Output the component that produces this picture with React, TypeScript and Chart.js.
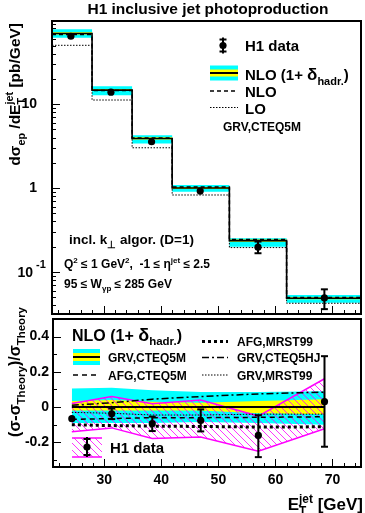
import React, { useEffect, useRef } from 'react';
import { Chart, registerables } from 'chart.js';

Chart.register(...registerables);

// ---------- data ----------
const binEdges = [21, 28, 35, 42, 52, 62, 75];
const binCenters = [24.3, 31.3, 38.4, 46.9, 57.0, 68.6];

// top panel: d sigma / dE_T [pb/GeV]
const h1Xsec = [64.5, 13.9, 3.56, 0.92, 0.197, 0.049];
const h1XsecErrUp = [1.5, 0.45, 0.15, 0.07, 0.033, 0.013];
const h1XsecErrDn = [1.5, 0.45, 0.15, 0.07, 0.03, 0.013];
const nloHadXsec = [69.5, 14.7, 3.9, 1.0, 0.236, 0.0486];
const nloHadCyanUp = [78, 16.4, 4.27, 1.086, 0.252, 0.053];
const nloHadCyanLo = [61.7, 12.8, 3.4, 0.9, 0.2, 0.043];
const nloHadYellowUp = [72, 15.2, 4.03, 1.03, 0.243, 0.05];
const nloHadYellowLo = [67.5, 14.3, 3.8, 0.975, 0.229, 0.0472];
const nloXsec = [67.5, 14.5, 3.95, 1.03, 0.243, 0.0497];
const loXsec = [50.3, 11.2, 3.02, 0.826, 0.195, 0.0423];

// bottom panel: (sigma - sigma_Theory)/sigma_Theory
const h1Ratio = [-0.066, -0.038, -0.094, -0.076, -0.161, 0.031];
const h1RatioErrUp = [0.008, 0.03, 0.04, 0.063, 0.115, 0.258];
const h1RatioErrDn = [0.008, 0.03, 0.042, 0.062, 0.123, 0.256];
const h1SysUp = [0.02, 0.06, 0.019, 0.04, -0.051, 0.161];
const h1SysLo = [-0.14, -0.118, -0.178, -0.17, -0.25, -0.123];
const grvCteq5mCyanUp = [0.105, 0.11, 0.095, 0.085, 0.085, 0.09];
const grvCteq5mCyanLo = [-0.09, -0.09, -0.09, -0.085, -0.09, -0.1];
const grvCteq5mYellowUp = [0.035, 0.04, 0.03, 0.025, 0.035, 0.045];
const grvCteq5mYellowLo = [-0.02, -0.02, -0.02, -0.02, -0.035, -0.04];
const grvCteq5m = [0, 0, 0, 0, 0, 0];
const afgCteq5m = [-0.07, -0.065, -0.06, -0.06, -0.058, -0.055];
const afgMrst99 = [-0.1, -0.105, -0.108, -0.11, -0.113, -0.112];
const grvCteq5hj = [0.01, 0.025, 0.045, 0.06, 0.075, 0.085];
const grvMrst99 = [-0.03, -0.035, -0.045, -0.045, -0.04, -0.04];

const xTickMajor = [30, 40, 50, 60, 70];
const ratioTickMajor = [-0.2, 0, 0.2, 0.4];
const ratioTickLabels = ['-0.2', '0', '0.2', '0.4'];

// ---------- styles ----------
const CYAN = '#00ffff';
const YELLOW = '#ffff00';
const MAGENTA = '#ff00ff';
const FAM = '"Liberation Sans", Arial, Helvetica, sans-serif';
const bold = (s: number) => `bold ${s}px ${FAM}`;

const stepPts = (vals: number[]) =>
  binEdges.map((x, i) => ({ x, y: vals[Math.min(i, vals.length - 1)] }));
const ptPts = (vals: number[]) => binCenters.map((x, i) => ({ x, y: vals[i] }));

type Seg = { t?: string; s?: number; sub?: string; sup?: string; ss?: number };

function segW(ctx: CanvasRenderingContext2D, g: Seg, base: number) {
  if (g.sub !== undefined || g.sup !== undefined) {
    ctx.font = bold(g.ss ?? base * 0.7);
    return Math.max(ctx.measureText(g.sub || '').width, ctx.measureText(g.sup || '').width);
  }
  ctx.font = bold(g.s ?? base);
  return ctx.measureText(g.t || '').width;
}

function drawRich(
  ctx: CanvasRenderingContext2D,
  segs: Seg[],
  x: number,
  y: number,
  base: number,
  align: 'left' | 'right' | 'center',
  rotate = false
) {
  ctx.save();
  ctx.translate(x, y);
  if (rotate) ctx.rotate(-Math.PI / 2);
  const total = segs.reduce((a, g) => a + segW(ctx, g, base), 0);
  let cx = align === 'left' ? 0 : align === 'right' ? -total : -total / 2;
  ctx.textAlign = 'left';
  ctx.textBaseline = 'alphabetic';
  ctx.fillStyle = '#000';
  for (const g of segs) {
    const w = segW(ctx, g, base);
    if (g.sub !== undefined || g.sup !== undefined) {
      ctx.font = bold(g.ss ?? base * 0.7);
      if (g.sub) ctx.fillText(g.sub, cx, base * 0.3);
      if (g.sup) ctx.fillText(g.sup, cx, -base * 0.42);
    } else {
      ctx.font = bold(g.s ?? base);
      ctx.fillText(g.t || '', cx, 0);
    }
    cx += w;
  }
  ctx.restore();
}

function line(ctx: CanvasRenderingContext2D, x1: number, y1: number, x2: number, y2: number) {
  ctx.beginPath();
  ctx.moveTo(x1, y1);
  ctx.lineTo(x2, y2);
  ctx.stroke();
}

function marker(ctx: CanvasRenderingContext2D, x: number, y: number, half: number, cap: number) {
  ctx.save();
  ctx.strokeStyle = '#000';
  ctx.lineWidth = 2;
  line(ctx, x, y - half, x, y + half);
  line(ctx, x - cap, y - half + 2, x + cap, y - half + 2);
  line(ctx, x - cap, y + half - 2, x + cap, y + half - 2);
  ctx.fillStyle = '#000';
  ctx.beginPath();
  ctx.arc(x, y, 3.6, 0, Math.PI * 2);
  ctx.fill();
  ctx.restore();
}

function errBars(
  ctx: CanvasRenderingContext2D,
  xs: any,
  ys: any,
  yv: number[],
  up: number[],
  dn: number[]
) {
  ctx.save();
  ctx.strokeStyle = '#000';
  ctx.lineWidth = 2;
  for (let i = 0; i < yv.length; i++) {
    const px = xs.getPixelForValue(binCenters[i]);
    const yc = ys.getPixelForValue(yv[i]);
    const y1 = ys.getPixelForValue(yv[i] + up[i]);
    const y2 = ys.getPixelForValue(yv[i] - dn[i]);
    line(ctx, px, y1, px, y2);
    if (yc - y1 > 4.5) line(ctx, px - 3.5, y1, px + 3.5, y1);
    if (y2 - yc > 4.5) line(ctx, px - 3.5, y2, px + 3.5, y2);
  }
  ctx.restore();
}

function xTicks(ctx: CanvasRenderingContext2D, xs: any, bottom: number) {
  ctx.lineWidth = 1;
  ctx.strokeStyle = '#000';
  for (let v = 22; v <= 74; v += 2) {
    const px = Math.round(xs.getPixelForValue(v)) + 0.5;
    const len = xTickMajor.includes(v) ? 8 : 4;
    line(ctx, px, bottom, px, bottom - len);
  }
}

const baseLine = {
  pointRadius: 0,
  borderColor: '#000',
  backgroundColor: 'transparent',
  fill: false,
  tension: 0,
};

function topConfig(): any {
  const plugin = {
    id: 'topDeco',
    afterDatasetsDraw(chart: any) {
      errBars(chart.ctx, chart.scales.x, chart.scales.y, h1Xsec, h1XsecErrUp, h1XsecErrDn);
    },
    afterDraw(chart: any) {
      const ctx: CanvasRenderingContext2D = chart.ctx;
      const a = chart.chartArea;
      const xs = chart.scales.x;
      const ys = chart.scales.y;
      ctx.save();
      // frame
      ctx.lineWidth = 2;
      ctx.strokeStyle = '#000';
      ctx.strokeRect(a.left, a.top, a.right - a.left, a.bottom - a.top);
      xTicks(ctx, xs, a.bottom);
      // log y ticks
      ctx.lineWidth = 1;
      for (let e = -2; e <= 2; e++) {
        for (let k = 1; k <= 9; k++) {
          const v = k * Math.pow(10, e);
          if (v < ys.min || v > ys.max) continue;
          const py = Math.round(ys.getPixelForValue(v)) + 0.5;
          line(ctx, a.left, py, a.left + (k === 1 ? 8 : 4), py);
        }
      }
      // y tick labels
      ctx.fillStyle = '#000';
      ctx.font = bold(14);
      ctx.textAlign = 'right';
      ctx.textBaseline = 'middle';
      ctx.fillText('10', 37, ys.getPixelForValue(10));
      ctx.fillText('1', 37, ys.getPixelForValue(1));
      ctx.fillText('10', 33, ys.getPixelForValue(0.1) + 1);
      ctx.font = bold(11);
      ctx.textAlign = 'left';
      ctx.fillText('-1', 36, ys.getPixelForValue(0.1) - 7);

      // title
      ctx.font = bold(15.5);
      ctx.textAlign = 'center';
      ctx.textBaseline = 'alphabetic';
      ctx.fillText('H1 inclusive jet photoproduction', 208, 14);

      // y title
      drawRich(
        ctx,
        [{ t: 'dσ' }, { sub: 'ep' }, { t: ' /dE' }, { sub: 'T', sup: 'jet' }, { t: ' [pb/GeV]' }],
        20,
        23,
        15.5,
        'right',
        true
      );

      // legend
      marker(ctx, 223, 45.5, 8, 3.5);
      ctx.font = bold(15);
      ctx.textAlign = 'left';
      ctx.fillText('H1 data', 245, 50.5);

      ctx.fillStyle = CYAN;
      ctx.fillRect(210, 65.5, 28, 15);
      ctx.fillStyle = YELLOW;
      ctx.fillRect(210, 69.5, 28, 7);
      ctx.strokeStyle = '#000';
      ctx.lineWidth = 2;
      line(ctx, 210, 73, 238, 73);
      drawRich(ctx, [{ t: 'NLO (1+ ' }, { t: 'δ', s: 17 }, { sub: 'hadr.', ss: 11 }, { t: ')' }], 245, 80, 15, 'left');

      ctx.lineWidth = 1.5;
      ctx.setLineDash([4, 3]);
      line(ctx, 210, 91, 238, 91);
      ctx.setLineDash([1.5, 1.5]);
      ctx.lineWidth = 1;
      line(ctx, 210, 107.5, 238, 107.5);
      ctx.setLineDash([]);
      ctx.fillStyle = '#000';
      ctx.font = bold(15);
      ctx.fillText('NLO', 245, 97);
      ctx.fillText('LO', 245, 113.5);
      ctx.font = bold(12);
      ctx.fillText('GRV,CTEQ5M', 223, 131);

      // cuts text
      drawRich(ctx, [{ t: 'incl. k' }, { sub: '⊥', ss: 10 }, { t: ' algor. (D=1)' }], 69, 244, 13.5, 'left');
      drawRich(
        ctx,
        [
          { t: 'Q' },
          { sup: '2', ss: 8 },
          { t: ' ≤ 1 GeV' },
          { sup: '2', ss: 8 },
          { t: ',  -1 ≤ η' },
          { sup: 'jet', ss: 8 },
          { t: ' ≤ 2.5' },
        ],
        64,
        268,
        12,
        'left'
      );
      drawRich(
        ctx,
        [{ t: '95 ≤ W' }, { sub: 'γp', ss: 8 }, { t: ' ≤ 285 GeV' }],
        64,
        287.5,
        12,
        'left'
      );
      ctx.restore();
    },
  };

  return {
    type: 'line',
    data: {
      datasets: [
        { ...baseLine, data: stepPts(nloHadCyanUp), stepped: true, borderWidth: 0, borderColor: 'transparent', fill: '+1', backgroundColor: CYAN, order: 10 },
        { ...baseLine, data: stepPts(nloHadCyanLo), stepped: true, borderWidth: 0, borderColor: 'transparent', order: 9 },
        { ...baseLine, data: stepPts(nloHadYellowUp), stepped: true, borderWidth: 0, borderColor: 'transparent', fill: '+1', backgroundColor: YELLOW, order: 8 },
        { ...baseLine, data: stepPts(nloHadYellowLo), stepped: true, borderWidth: 0, borderColor: 'transparent', order: 7 },
        { ...baseLine, data: stepPts(loXsec), stepped: true, borderWidth: 1, borderDash: [1.5, 1.5], order: 6 },
        { ...baseLine, data: stepPts(nloXsec), stepped: true, borderWidth: 1.5, borderDash: [4, 3], order: 5 },
        { ...baseLine, data: stepPts(nloHadXsec), stepped: true, borderWidth: 1.6, order: 4 },
        { ...baseLine, data: ptPts(h1Xsec), showLine: false, pointRadius: 3.6, pointBackgroundColor: '#000', pointBorderWidth: 0, order: 1 },
      ],
    },
    options: {
      responsive: false,
      animation: false,
      devicePixelRatio: 1,
      events: [],
      layout: { padding: { left: 52, top: 21, right: 2, bottom: 199 } },
      plugins: { legend: { display: false }, tooltip: { enabled: false } },
      scales: {
        x: { type: 'linear', min: 21, max: 75, display: false },
        y: { type: 'logarithmic', min: 0.0315, max: 98, display: false },
      },
    },
    plugins: [plugin],
  };
}

function botConfig(hatch: CanvasPattern | string): any {
  const plugin = {
    id: 'botDeco',
    afterDatasetsDraw(chart: any) {
      errBars(chart.ctx, chart.scales.x, chart.scales.y, h1Ratio, h1RatioErrUp, h1RatioErrDn);
    },
    afterDraw(chart: any) {
      const ctx: CanvasRenderingContext2D = chart.ctx;
      const a = chart.chartArea;
      const xs = chart.scales.x;
      const ys = chart.scales.y;
      ctx.save();
      ctx.lineWidth = 2;
      ctx.strokeStyle = '#000';
      ctx.strokeRect(a.left, a.top, a.right - a.left, a.bottom - a.top);
      xTicks(ctx, xs, a.bottom);
      ctx.lineWidth = 1;
      for (let k = -3; k <= 4; k++) {
        const v = k / 10;
        const py = Math.round(ys.getPixelForValue(v)) + 0.5;
        line(ctx, a.left, py, a.left + (k % 2 === 0 ? 8 : 4), py);
      }
      // labels
      ctx.fillStyle = '#000';
      ctx.font = bold(14);
      ctx.textAlign = 'right';
      ctx.textBaseline = 'middle';
      ratioTickMajor.forEach((v, i) => ctx.fillText(ratioTickLabels[i], 49, ys.getPixelForValue(v)));
      ctx.textAlign = 'center';
      xTickMajor.forEach((v) => ctx.fillText(String(v), xs.getPixelForValue(v), 480));
      ctx.textBaseline = 'alphabetic';

      // axis titles
      drawRich(ctx, [{ t: 'E' }, { sub: 'T', sup: 'jet' }, { t: ' [GeV]' }], 363, 510, 17, 'right');
      drawRich(
        ctx,
        [{ t: '(σ-σ' }, { sub: 'Theory', ss: 11.5 }, { t: ')/σ' }, { sub: 'Theory', ss: 11.5 }],
        20,
        307,
        16,
        'right',
        true
      );

      // legend
      drawRich(ctx, [{ t: 'NLO (1+ ' }, { t: 'δ', s: 18 }, { sub: 'hadr.', ss: 11.5 }, { t: ')' }], 72, 340.5, 16, 'left');
      ctx.fillStyle = CYAN;
      ctx.fillRect(73, 349, 27, 16);
      ctx.fillStyle = YELLOW;
      ctx.fillRect(73, 353, 27, 8);
      ctx.strokeStyle = '#000';
      ctx.lineWidth = 2;
      line(ctx, 73, 357, 100, 357);
      ctx.lineWidth = 1.5;
      ctx.setLineDash([5, 4]);
      line(ctx, 73, 375, 100, 375);
      ctx.lineWidth = 3;
      ctx.setLineDash([3, 3]);
      line(ctx, 202, 341.5, 228, 341.5);
      ctx.lineWidth = 1.5;
      ctx.setLineDash([7, 3, 2, 3]);
      line(ctx, 202, 357.5, 228, 357.5);
      ctx.lineWidth = 1;
      ctx.setLineDash([1.5, 1.5]);
      line(ctx, 202, 375, 228, 375);
      ctx.setLineDash([]);
      ctx.fillStyle = '#000';
      ctx.font = bold(12);
      ctx.textAlign = 'left';
      ctx.fillText('GRV,CTEQ5M', 108, 362);
      ctx.fillText('AFG,CTEQ5M', 108, 379.5);
      ctx.fillText('AFG,MRST99', 237, 346);
      ctx.fillText('GRV,CTEQ5HJ', 237, 362);
      ctx.fillText('GRV,MRST99', 237, 379.5);

      // H1 data hatched box
      ctx.fillStyle = hatch as any;
      ctx.fillRect(72, 438, 30, 19);
      ctx.strokeStyle = MAGENTA;
      ctx.lineWidth = 1.5;
      line(ctx, 72, 438, 102, 438);
      line(ctx, 72, 457, 102, 457);
      marker(ctx, 87, 447, 10, 3.5);
      ctx.fillStyle = '#000';
      ctx.font = bold(15);
      ctx.fillText('H1 data', 110, 453);
      ctx.restore();
    },
  };

  return {
    type: 'line',
    data: {
      datasets: [
        { ...baseLine, data: ptPts(grvCteq5mCyanUp), borderWidth: 0, borderColor: 'transparent', fill: '+1', backgroundColor: CYAN, order: 20 },
        { ...baseLine, data: ptPts(grvCteq5mCyanLo), borderWidth: 0, borderColor: 'transparent', order: 19 },
        { ...baseLine, data: ptPts(grvCteq5mYellowUp), borderWidth: 0, borderColor: 'transparent', fill: '+1', backgroundColor: YELLOW, order: 18 },
        { ...baseLine, data: ptPts(grvCteq5mYellowLo), borderWidth: 0, borderColor: 'transparent', order: 17 },
        { ...baseLine, data: ptPts(h1SysUp), borderWidth: 1.5, borderColor: MAGENTA, fill: '+1', backgroundColor: hatch, order: 16 },
        { ...baseLine, data: ptPts(h1SysLo), borderWidth: 1.5, borderColor: MAGENTA, order: 15 },
        { ...baseLine, data: ptPts(grvCteq5m), borderWidth: 2, order: 14 },
        { ...baseLine, data: ptPts(grvMrst99), borderWidth: 1, borderDash: [1.5, 1.5], order: 13 },
        { ...baseLine, data: ptPts(afgCteq5m), borderWidth: 1.5, borderDash: [5, 4], order: 12 },
        { ...baseLine, data: ptPts(grvCteq5hj), borderWidth: 1.5, borderDash: [7, 3, 2, 3], order: 11 },
        { ...baseLine, data: ptPts(afgMrst99), borderWidth: 3, borderDash: [3, 3], order: 10 },
        { ...baseLine, data: ptPts(h1Ratio), showLine: false, pointRadius: 3.6, pointBackgroundColor: '#000', pointBorderWidth: 0, order: 1 },
      ],
    },
    options: {
      responsive: false,
      animation: false,
      devicePixelRatio: 1,
      events: [],
      layout: { padding: { left: 53, top: 319, right: 2, bottom: 46 } },
      plugins: { legend: { display: false }, tooltip: { enabled: false } },
      scales: {
        x: { type: 'linear', min: 21, max: 75, display: false },
        y: { type: 'linear', min: -0.34, max: 0.5, display: false },
      },
    },
    plugins: [plugin],
  };
}

function makeHatch(): CanvasPattern | string {
  const s = 7;
  const c = document.createElement('canvas');
  c.width = s;
  c.height = s;
  const g = c.getContext('2d');
  if (!g) return 'rgba(255,0,255,0.3)';
  g.strokeStyle = MAGENTA;
  g.lineWidth = 0.8;
  for (const o of [-s, 0, s]) {
    g.beginPath();
    g.moveTo(o, 0);
    g.lineTo(o + s, s);
    g.stroke();
  }
  const p = g.createPattern(c, 'repeat');
  return p || 'rgba(255,0,255,0.3)';
}

export default function App() {
  const topRef = useRef<HTMLCanvasElement>(null);
  const botRef = useRef<HTMLCanvasElement>(null);
  useEffect(() => {
    const hatch = makeHatch();
    const top = new Chart(topRef.current!, topConfig());
    const bot = new Chart(botRef.current!, botConfig(hatch));
    return () => {
      top.destroy();
      bot.destroy();
    };
  }, []);
  return (
    <div style={{ position: 'fixed', left: 0, top: 0, width: 365, height: 513, background: '#fff' }}>
      <canvas ref={topRef} width={365} height={513} style={{ position: 'absolute', left: 0, top: 0 }} />
      <canvas ref={botRef} width={365} height={513} style={{ position: 'absolute', left: 0, top: 0 }} />
    </div>
  );
}
